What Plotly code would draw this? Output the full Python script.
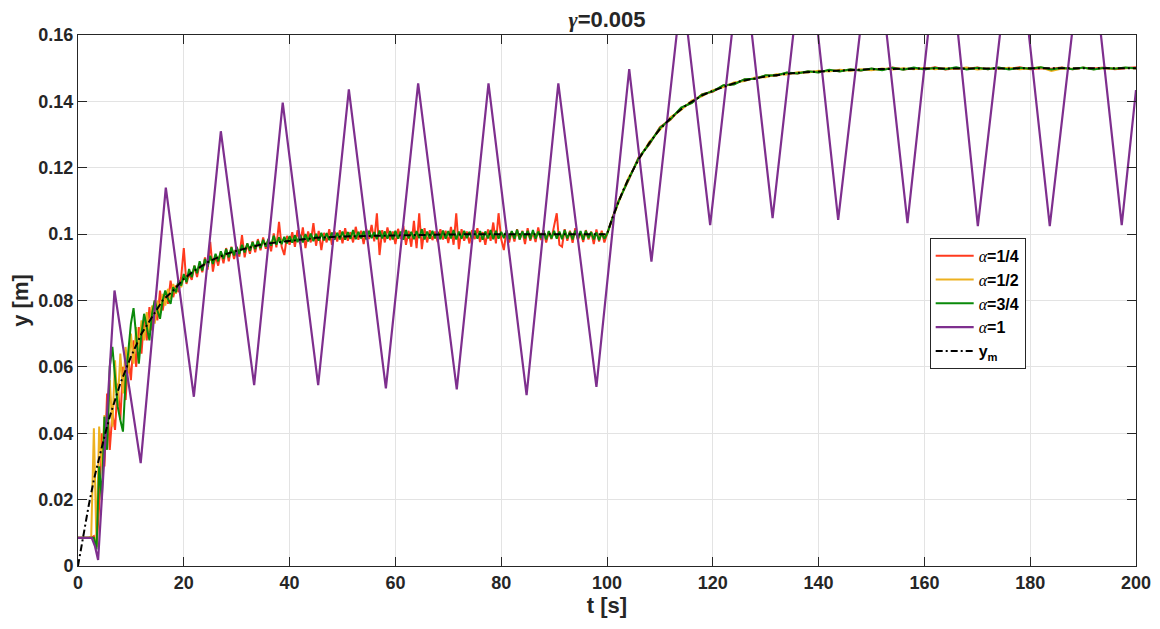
import numpy as np
import plotly.graph_objects as go

# ---------------- data ----------------
t_fast = np.arange(0, 100.25, 0.5)   # sample times 0 .. 100 s
t_slow = np.arange(102, 201, 2)      # sample times 102 .. 200 s

# alpha = 1/4 (red)
red_rise = [0.0085, 0.0085, 0.0085, 0.0085, 0.0085, 0.0085, 0.0090, 0.0057, 0.0180, 0.0400,
            0.0300, 0.0520, 0.0350, 0.0460, 0.0410, 0.0550, 0.0440, 0.0600, 0.0500, 0.0630,
            0.0560, 0.0680, 0.0600, 0.0720, 0.0640, 0.0750, 0.0680, 0.0780, 0.0710, 0.0800,
            0.0740, 0.0830, 0.0770, 0.0815, 0.0790, 0.0860, 0.0810, 0.0845, 0.0825, 0.0870]
red_hold = [0.0958, 0.0850, 0.0880, 0.0862, 0.0905, 0.0871, 0.0912, 0.0885, 0.0930, 0.0893,
            0.0977, 0.0887, 0.0935, 0.0905, 0.0948, 0.0912, 0.0958, 0.0918, 0.0962, 0.0925,
            0.0958, 0.0932, 0.0997, 0.0930, 0.0972, 0.0941, 0.0978, 0.0945, 0.0985, 0.0951,
            0.0990, 0.0956, 0.0983, 0.0948, 0.1002, 0.0960, 0.1037, 0.0962, 0.0937, 0.0995,
            0.0968, 0.1006, 0.0962, 0.1012, 0.0970, 0.1020, 0.0958, 0.1008, 0.0975, 0.1033,
            0.0965, 0.1010, 0.0952, 0.1004, 0.0975, 0.1015, 0.0968, 0.1008, 0.0978, 0.1012,
            0.0972, 0.1018, 0.0980, 0.1006, 0.0975, 0.1022, 0.0983, 0.1010, 0.0970, 0.1015,
            0.0985, 0.1028, 0.0978, 0.1063, 0.0937, 0.1012, 0.0975, 0.1020, 0.0982, 0.1008,
            0.0970, 0.1016, 0.0985, 0.1025, 0.0968, 0.1010, 0.0962, 0.1040, 0.0958, 0.1063,
            0.0955, 0.1018, 0.0975, 0.1012, 0.0982, 0.1008, 0.0976, 0.1015, 0.0984, 0.1010,
            0.0973, 0.1022, 0.0968, 0.1063, 0.0955, 0.1015, 0.0980, 0.1008, 0.0972, 0.1012,
            0.0985, 0.1018, 0.0976, 0.1006, 0.0968, 0.1014, 0.0980, 0.1035, 0.0972, 0.1063,
            0.0985, 0.0952, 0.1012, 0.0975, 0.1008, 0.0978, 0.1015, 0.0984, 0.1010, 0.0970,
            0.1018, 0.0980, 0.1006, 0.0976, 0.1020, 0.0982, 0.1012, 0.0975, 0.1008, 0.0985,
            0.1025, 0.1063, 0.0968, 0.0962, 0.1015, 0.0980, 0.1010, 0.0974, 0.1018, 0.0982,
            0.1006, 0.0976, 0.1012, 0.0984, 0.1008, 0.0970, 0.1014, 0.0978, 0.1010, 0.0975,
            0.1000]
red_step = [0.1095, 0.1160, 0.1232, 0.1270, 0.1322, 0.1345, 0.1380, 0.1396, 0.1422, 0.1429,
            0.1448, 0.1452, 0.1466, 0.1468, 0.1478, 0.1477, 0.1486, 0.1484, 0.1490, 0.1488,
            0.1494, 0.1491, 0.1496, 0.1493, 0.1498, 0.1495, 0.1502, 0.1496, 0.1499, 0.1497,
            0.1503, 0.1496, 0.1500, 0.1498, 0.1502, 0.1497, 0.1501, 0.1498, 0.1503, 0.1497,
            0.1500, 0.1498, 0.1502, 0.1497, 0.1501, 0.1499, 0.1502, 0.1497, 0.1501, 0.1503]

# alpha = 1/2 (yellow)
yel_rise = [0.0085, 0.0085, 0.0085, 0.0085, 0.0085, 0.0090, 0.0415, 0.0060, 0.0420, 0.0300,
            0.0455, 0.0380, 0.0560, 0.0420, 0.0620, 0.0480, 0.0640, 0.0520, 0.0660, 0.0580,
            0.0700, 0.0610, 0.0720, 0.0650, 0.0740, 0.0680, 0.0765, 0.0705, 0.0785, 0.0730,
            0.0800, 0.0760, 0.0820, 0.0785, 0.0835, 0.0805, 0.0850, 0.0820, 0.0860, 0.0840]
yel_hold = [0.0872, 0.0860, 0.0885, 0.0878, 0.0898, 0.0890, 0.0908, 0.0899, 0.0915, 0.0910,
            0.0925, 0.0916, 0.0932, 0.0926, 0.0940, 0.0931, 0.0946, 0.0938, 0.0952, 0.0944,
            0.0955, 0.0947, 0.0960, 0.0952, 0.0966, 0.0957, 0.0969, 0.0961, 0.0974, 0.0965,
            0.0976, 0.0969, 0.0980, 0.0971, 0.0983, 0.0973, 0.0985, 0.0976, 0.0987, 0.0978,
            0.0989, 0.0979, 0.0991, 0.0981, 0.0993, 0.0982, 0.0994, 0.0984, 0.0996, 0.0985,
            0.0997, 0.0986, 0.0998, 0.0987, 0.0999, 0.0986, 0.1000, 0.0988, 0.1001, 0.0989,
            0.1004, 0.0987, 0.1002, 0.0990, 0.1005, 0.0989, 0.1003, 0.0991, 0.1006, 0.0988,
            0.1004, 0.0992, 0.1003, 0.0989, 0.1007, 0.0990, 0.1004, 0.0991, 0.1005, 0.0989,
            0.1006, 0.0990, 0.1004, 0.0988, 0.1007, 0.0991, 0.1003, 0.0989, 0.1005, 0.0992,
            0.1008, 0.0990, 0.1004, 0.0987, 0.1006, 0.0991, 0.1003, 0.0989, 0.1005, 0.0990,
            0.1004, 0.0991, 0.1007, 0.0988, 0.1005, 0.0990, 0.1003, 0.0992, 0.1006, 0.0989,
            0.1004, 0.0991, 0.1008, 0.0988, 0.1005, 0.0990, 0.1003, 0.0991, 0.1006, 0.0989,
            0.1005, 0.0992, 0.1003, 0.0989, 0.1007, 0.0990, 0.1004, 0.0988, 0.1006, 0.0991,
            0.1003, 0.0990, 0.1005, 0.0989, 0.1008, 0.0991, 0.1004, 0.0988, 0.1006, 0.0990,
            0.1004, 0.0991, 0.1006, 0.0988, 0.1005, 0.0990, 0.1003, 0.0992, 0.1007, 0.0989,
            0.1004, 0.0991, 0.1005, 0.0988, 0.1006, 0.0990, 0.1003, 0.0985, 0.1004, 0.0992,
            0.1000]
yel_step = [0.1088, 0.1168, 0.1224, 0.1278, 0.1314, 0.1352, 0.1374, 0.1402, 0.1416, 0.1434,
            0.1443, 0.1457, 0.1461, 0.1472, 0.1473, 0.1482, 0.1481, 0.1488, 0.1487, 0.1492,
            0.1490, 0.1495, 0.1492, 0.1497, 0.1494, 0.1499, 0.1496, 0.1500, 0.1497, 0.1501,
            0.1497, 0.1500, 0.1498, 0.1502, 0.1496, 0.1499, 0.1498, 0.1501, 0.1497, 0.1500,
            0.1503, 0.1492, 0.1499, 0.1498, 0.1501, 0.1497, 0.1500, 0.1499, 0.1501, 0.1499]

# alpha = 3/4 (green)
grn_rise = [0.0085, 0.0085, 0.0085, 0.0085, 0.0085, 0.0085, 0.0085, 0.0050, 0.0300, 0.0200,
            0.0450, 0.0350, 0.0600, 0.0660, 0.0560, 0.0480, 0.0440, 0.0405, 0.0560, 0.0650,
            0.0730, 0.0777, 0.0690, 0.0610, 0.0700, 0.0760, 0.0720, 0.0680, 0.0760, 0.0800,
            0.0770, 0.0745, 0.0800, 0.0830, 0.0805, 0.0790, 0.0840, 0.0825, 0.0860, 0.0845]
grn_hold = [0.0880, 0.0855, 0.0895, 0.0870, 0.0905, 0.0882, 0.0918, 0.0890, 0.0925, 0.0902,
            0.0935, 0.0910, 0.0941, 0.0918, 0.0948, 0.0925, 0.0955, 0.0930, 0.0960, 0.0936,
            0.0962, 0.0940, 0.0968, 0.0945, 0.0972, 0.0950, 0.0976, 0.0955, 0.0980, 0.0958,
            0.0983, 0.0962, 0.0986, 0.0965, 0.0995, 0.0968, 0.0990, 0.0970, 0.0992, 0.0972,
            0.0994, 0.0974, 0.0996, 0.0976, 0.0998, 0.0975, 0.1000, 0.0978, 0.1002, 0.0979,
            0.1001, 0.0980, 0.1004, 0.0981, 0.1003, 0.0982, 0.1005, 0.0983, 0.1004, 0.0984,
            0.1008, 0.0983, 0.1006, 0.0986, 0.1012, 0.0985, 0.1007, 0.0987, 0.1009, 0.0984,
            0.1010, 0.0988, 0.1006, 0.0985, 0.1011, 0.0987, 0.1008, 0.0986, 0.1009, 0.0984,
            0.1010, 0.0986, 0.1008, 0.0983, 0.1012, 0.0987, 0.1007, 0.0985, 0.1009, 0.0988,
            0.1015, 0.0984, 0.1008, 0.0986, 0.1010, 0.0987, 0.1007, 0.0985, 0.1011, 0.0986,
            0.1009, 0.0987, 0.1012, 0.0984, 0.1008, 0.0986, 0.1010, 0.0988, 0.1007, 0.0985,
            0.1011, 0.0986, 0.1009, 0.0983, 0.1008, 0.0987, 0.1012, 0.0985, 0.1010, 0.0986,
            0.1007, 0.0988, 0.1011, 0.0985, 0.1009, 0.0986, 0.1013, 0.0984, 0.1008, 0.0987,
            0.1010, 0.0985, 0.1012, 0.0986, 0.1008, 0.0988, 0.1011, 0.0984, 0.1009, 0.0987,
            0.1010, 0.0986, 0.1008, 0.0985, 0.1012, 0.0987, 0.1007, 0.0984, 0.1011, 0.0986,
            0.1009, 0.0983, 0.1010, 0.0988, 0.1006, 0.0984, 0.1005, 0.0982, 0.1003, 0.0986,
            0.1000]
grn_step = [0.1092, 0.1162, 0.1230, 0.1272, 0.1320, 0.1346, 0.1381, 0.1395, 0.1421, 0.1430,
            0.1449, 0.1451, 0.1467, 0.1468, 0.1479, 0.1478, 0.1487, 0.1484, 0.1491, 0.1487,
            0.1495, 0.1490, 0.1497, 0.1493, 0.1499, 0.1494, 0.1501, 0.1495, 0.1502, 0.1496,
            0.1501, 0.1497, 0.1503, 0.1496, 0.1501, 0.1497, 0.1502, 0.1496, 0.1501, 0.1498,
            0.1503, 0.1496, 0.1501, 0.1497, 0.1502, 0.1496, 0.1501, 0.1498, 0.1502, 0.1500]

# alpha = 1 (purple): vertices of the oscillation
pur_t = [0, 2.6, 3.2, 3.8, 6.9, 11.85, 16.6, 21.9, 27.0, 33.3, 38.7, 45.4, 51.2, 58.2,
         64.3, 71.6, 77.6, 84.8, 90.8, 98.0, 104.2, 108.4, 114.2, 119.5, 125.5, 131.3,
         137.6, 143.7, 150.4, 156.8, 163.6, 170.1, 177.1, 183.7, 190.7, 197.3, 200]
pur_y = [0.0085, 0.0085, 0.006, 0.0018, 0.083, 0.031, 0.114, 0.051, 0.131, 0.0545, 0.1396,
         0.0545, 0.1436, 0.0535, 0.1454, 0.0532, 0.1454, 0.0515, 0.1454, 0.054, 0.1497,
         0.0917, 0.175, 0.1027, 0.187, 0.1048, 0.194, 0.1043, 0.196, 0.1033, 0.203, 0.1024,
         0.199, 0.1024, 0.199, 0.1027, 0.1434]

# reference model y_m
ym_t = [0, 1, 2, 3, 4, 5, 6, 7, 8, 9, 10, 12, 14, 16, 18, 20, 22, 25, 28, 30, 35, 40, 45,
        50, 60, 70, 80, 100, 101, 102, 103, 104, 105, 106, 108, 110, 112, 115, 118, 120,
        125, 130, 135, 140, 150, 160, 200]
ym_y = [0, 0.0095, 0.018, 0.026, 0.033, 0.039, 0.045, 0.050, 0.055, 0.059, 0.063, 0.070,
        0.075, 0.080, 0.083, 0.0865, 0.089, 0.092, 0.094, 0.095, 0.097, 0.098, 0.0989,
        0.0993, 0.0997, 0.0999, 0.1, 0.1, 0.1048, 0.109, 0.113, 0.1165, 0.1197, 0.1226,
        0.1275, 0.1316, 0.1349, 0.1389, 0.1418, 0.1432, 0.146, 0.1475, 0.1485, 0.149,
        0.1497, 0.1499, 0.15]

x_ticks = [0, 20, 40, 60, 80, 100, 120, 140, 160, 180, 200]
y_ticks = [0, 0.02, 0.04, 0.06, 0.08, 0.1, 0.12, 0.14, 0.16]
y_tick_text = ["0", "0.02", "0.04", "0.06", "0.08", "0.1", "0.12", "0.14", "0.16"]

# ---------------- figure ----------------
t_all = list(t_fast) + list(t_slow)
SERIF = '<span style="font-family:Liberation Serif;font-weight:normal"><i>{}</i></span>'
FONT = "Liberation Sans, Arial, sans-serif"
INK = "#262626"

fig = go.Figure()
series = [
    (SERIF.format("α") + "=1/4", red_rise + red_hold + red_step, "#FF3A1E"),
    (SERIF.format("α") + "=1/2", yel_rise + yel_hold + yel_step, "#EDB120"),
    (SERIF.format("α") + "=3/4", grn_rise + grn_hold + grn_step, "#0A8A0A"),
]
for name, ys, col in series:
    fig.add_trace(go.Scatter(x=t_all, y=ys, mode="lines", name=name,
                             line=dict(color=col, width=2)))
fig.add_trace(go.Scatter(x=pur_t, y=pur_y, mode="lines", name=SERIF.format("α") + "=1",
                         line=dict(color="#7E2F8E", width=2.2)))
fig.add_trace(go.Scatter(x=ym_t, y=ym_y, mode="lines", name="y<sub>m</sub>",
                         line=dict(color="black", width=2, dash="7px,3px,2px,3px")))

axis_common = dict(
    showgrid=True, gridcolor="#E3E3E3", gridwidth=1,
    showline=True, linecolor=INK, linewidth=1, mirror="allticks",
    ticks="inside", ticklen=9, tickcolor=INK, tickwidth=1,
    zeroline=False, automargin=False,
    tickfont=dict(family=FONT, size=18, color=INK, weight="bold"),
)
fig.update_xaxes(range=[0, 200], tickvals=x_ticks, **axis_common,
                 title=dict(text="t [s]", standoff=4,
                            font=dict(family=FONT, size=22, color=INK, weight="bold")))
fig.update_yaxes(range=[0, 0.16], tickvals=y_ticks, ticktext=y_tick_text, **axis_common,
                 title=dict(text="y [m]", standoff=6,
                            font=dict(family=FONT, size=22, color=INK, weight="bold")))

# the page adds an 8px body margin, so the figure is 8px smaller and margins shifted
fig.update_layout(
    width=1152, height=621,
    margin=dict(l=70, r=24, t=27, b=63, autoexpand=False),
    paper_bgcolor="white", plot_bgcolor="white",
    title=dict(text='<span style="font-family:Liberation Serif"><i>γ</i></span>=0.005',
               x=0.52, xanchor="center",
               y=0.994, yanchor="top", yref="container", pad=dict(t=0, b=0),
               font=dict(family=FONT, size=22, color=INK, weight="bold")),
    legend=dict(x=0.805, y=0.618, xanchor="left", yanchor="top",
                bgcolor="white", bordercolor=INK, borderwidth=1,
                font=dict(family=FONT, size=16, color="#000000", weight="bold"),
                itemwidth=38, tracegroupgap=0),
    showlegend=True,
)

fig.write_html("out.html")
